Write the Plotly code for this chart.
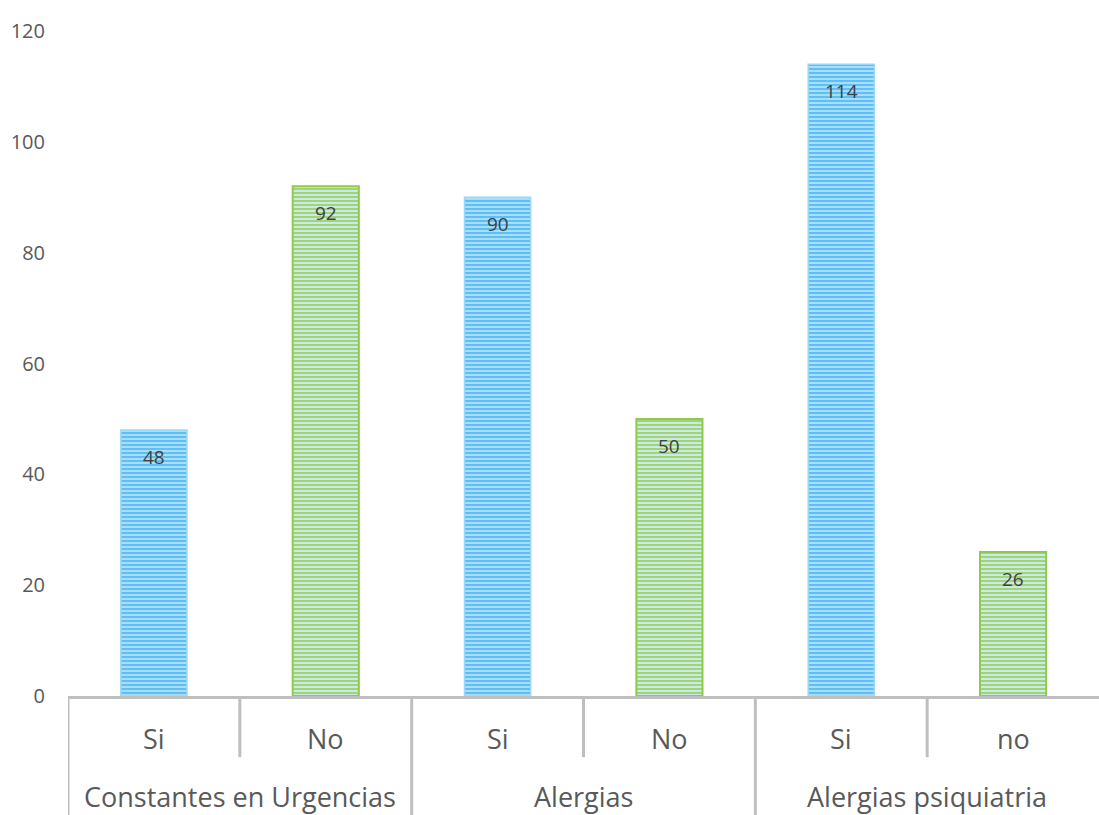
import plotly.graph_objects as go

groups = ["Constantes en Urgencias", "Constantes en Urgencias",
          "Alergias", "Alergias",
          "Alergias psiquiatria", "Alergias psiquiatria"]
answers = ["Si", "No", "Si", "No", "Si", "no"]
values = [48, 92, 90, 50, 114, 26]
y_ticks = [0, 20, 40, 60, 80, 100, 120]

pos = list(range(len(values)))
si_idx = [i for i, a in enumerate(answers) if a.lower() == "si"]
no_idx = [i for i, a in enumerate(answers) if a.lower() != "si"]

axis_grey = "#BFBFBF"
label_grey = "#595959"

fig = go.Figure()

# "Si" bars: blue horizontal stripes
fig.add_trace(go.Bar(
    x=[pos[i] for i in si_idx],
    y=[values[i] for i in si_idx],
    width=0.385,
    marker=dict(
        color="#A6DCFB",
        line=dict(color="#9AD7F9", width=1.5),
        pattern=dict(shape="-", fgcolor="#5CC0F6", bgcolor="#A8DDFB",
                     size=4, solidity=0.5, fillmode="replace"),
    ),
    hoverinfo="y",
))

# "No" bars: green stripes with green outline
fig.add_trace(go.Bar(
    x=[pos[i] for i in no_idx],
    y=[values[i] for i in no_idx],
    width=0.385,
    marker=dict(
        color="#C6E8F1",
        line=dict(color="#8FCB4A", width=2),
        pattern=dict(shape="-", fgcolor="#A3D66A", bgcolor="#C8E9F2",
                     size=4, solidity=0.5, fillmode="replace"),
    ),
    hoverinfo="y",
))

annotations = []
# value labels just inside the top of each bar
for i in pos:
    annotations.append(dict(
        x=pos[i], y=values[i], xref="x", yref="y", yshift=-27,
        text=str(values[i]), showarrow=False,
        font=dict(family="Open Sans", size=19, color="#404040"),
    ))

# first-level category labels
for i in pos:
    annotations.append(dict(
        x=pos[i], y=-0.0632, xref="x", yref="paper", yanchor="middle",
        text=answers[i], showarrow=False,
        font=dict(family="Open Sans", size=27, color=label_grey),
    ))

# group labels centred under their members
group_names = list(dict.fromkeys(groups))
for g in group_names:
    members = [i for i in pos if groups[i] == g]
    annotations.append(dict(
        x=sum(members) / len(members), y=-0.151, xref="x", yref="paper",
        yanchor="middle",
        text=g, showarrow=False,
        font=dict(family="Open Sans", size=27, color=label_grey),
    ))

shapes = []
# dividers: full height at group starts, shorter between members
for i in pos:
    left = pos[i] - 0.5
    starts_group = i == 0 or groups[i] != groups[i - 1]
    shapes.append(dict(
        type="line", xref="x", yref="paper",
        x0=left, x1=left, y0=0, y1=-0.185 if starts_group else -0.092,
        line=dict(color=axis_grey, width=3),
    ))

fig.update_layout(
    width=1099, height=815,
    margin=dict(l=68, r=0, t=31, b=119),
    paper_bgcolor="white", plot_bgcolor="white",
    showlegend=False,
    barmode="overlay",
    font=dict(family="Open Sans", color=label_grey),
    annotations=annotations,
    shapes=shapes,
    xaxis=dict(
        range=[-0.5, len(values) - 0.5],
        showticklabels=False, ticks="", showgrid=False, zeroline=False,
        showline=True, linecolor=axis_grey, linewidth=3,
        fixedrange=True,
    ),
    yaxis=dict(
        range=[0, 120], tickvals=y_ticks,
        showgrid=False, zeroline=False, showline=False,
        tickfont=dict(family="Open Sans", size=20, color=label_grey),
        ticklabelstandoff=22,
    ),
)

fig.write_html("out.html")
